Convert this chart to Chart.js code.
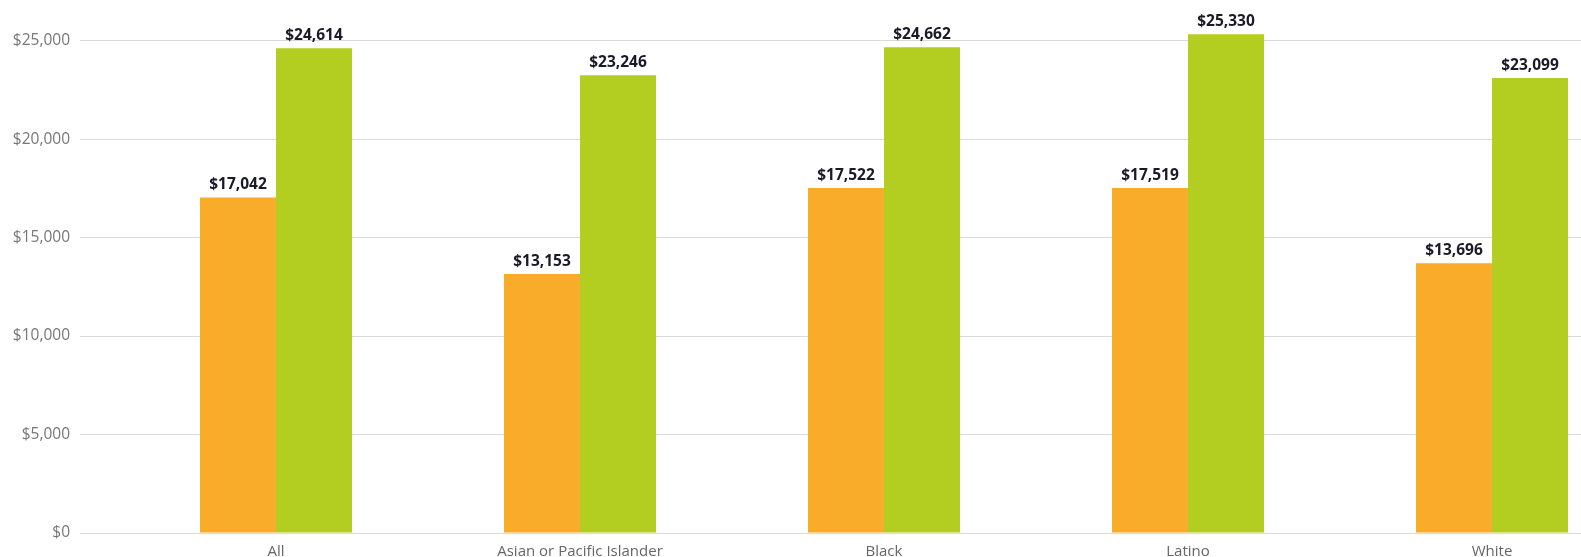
<!DOCTYPE html>
<html>
<head>
<meta charset="utf-8">
<script src="https://cdn.jsdelivr.net/npm/chart.js@4"></script>
<style>
html,body{margin:0;padding:0;background:#fff;overflow:hidden;width:1581px;height:557px;}
#wrap{position:absolute;left:0;top:-18px;width:1650px;height:589px;}
</style>
</head>
<body>
<div id="wrap"><canvas id="c" width="1650" height="589"></canvas></div>
<script>
const categories = ["All", "Asian or Pacific Islander", "Black", "Latino", "White"];
const seriesA = [17042, 13153, 17522, 17519, 13696];
const seriesB = [24614, 23246, 24662, 25330, 23099];
const seriesNames = ["Series A", "Series B"];
const yTicks = [0, 5000, 10000, 15000, 20000, 25000];

const fmt = v => "$" + v.toLocaleString("en-US");

const labelPlugin = {
  id: "barLabels",
  afterDatasetsDraw(chart) {
    const ctx = chart.ctx;
    ctx.save();
    ctx.font = "bold 15.5px 'Open Sans'";
    ctx.fillStyle = "#1a1a28";
    ctx.textAlign = "center";
    ctx.textBaseline = "bottom";
    chart.data.datasets.forEach((ds, i) => {
      chart.getDatasetMeta(i).data.forEach((bar, j) => {
        ctx.fillText(fmt(ds.data[j]), bar.x, bar.y - 5);
      });
    });
    ctx.restore();
  }
};

new Chart(document.getElementById("c"), {
  type: "bar",
  data: {
    labels: categories,
    datasets: [
      { label: seriesNames[0], data: seriesA, backgroundColor: "#F8AC29", borderWidth: 0 },
      { label: seriesNames[1], data: seriesB, backgroundColor: "#B3CD21", borderWidth: 0 }
    ]
  },
  options: {
    responsive: false,
    animation: false,
    layout: { padding: { top: 0, right: 6, bottom: 0, left: 0 } },
    plugins: { legend: { display: false }, tooltip: { enabled: false } },
    datasets: { bar: { categoryPercentage: 0.5, barPercentage: 1.0 } },
    scales: {
      x: {
        grid: { display: false, drawTicks: false },
        border: { display: false },
        ticks: { color: "#666", font: { family: "Open Sans", size: 15 }, padding: 10, maxRotation: 0 }
      },
      y: {
        min: 0,
        max: 27000,
        afterBuildTicks: s => { s.ticks = yTicks.map(v => ({ value: v })); },
        afterFit: s => { s.width = 124; },
        grid: { color: "#d9d9d9", lineWidth: 1, tickLength: 44, drawTicks: true },
        border: { display: false },
        ticks: { color: "#777", font: { family: "Open Sans", size: 15.5 }, padding: 10, callback: v => fmt(v) }
      }
    }
  },
  plugins: [labelPlugin]
});
</script>
</body>
</html>
